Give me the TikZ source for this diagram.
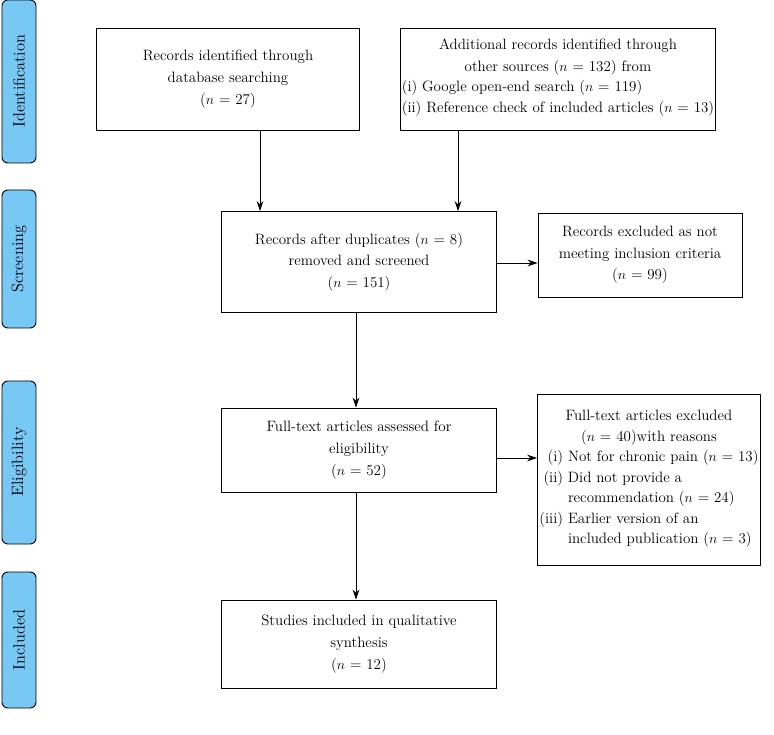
\documentclass[tikz,border=0pt]{standalone}
\usepackage{tikz}
\usetikzlibrary{arrows.meta, positioning}
\definecolor{tabcolor}{RGB}{120,200,245}
\tikzset{
  flowbox/.style={draw, thick, align=center, inner sep=1pt, font=\fontsize{12.8}{18.5}\selectfont},
  stagetab/.style={draw, thick, fill=tabcolor, rounded corners=5pt},
  stagetext/.style={rotate=90, font=\fontsize{14}{17}\selectfont},
  flowarrow/.style={-{Stealth[length=3mm, width=2mm]}, thick}
}
\begin{document}
\begin{tikzpicture}[x=0.03cm, y=-0.03cm]
    \useasboundingbox (0,0) rectangle (774,735);
    % Stage tabs
    \draw[stagetab] (2,0) rectangle (36,163);
    \node[stagetext] (tid) at (19,81) {Identification};
    \draw[stagetab] (2,190) rectangle (36,328);
    \node[stagetext] (tsc) at (19,259) {Screening};
    \draw[stagetab] (2,381) rectangle (36,544);
    \node[stagetext] (tel) at (19,462) {Eligibility};
    \draw[stagetab] (2,572) rectangle (36,708);
    \node[stagetext] (tin) at (19,640) {Included};

    % Boxes
    \node[flowbox, minimum width=7.89cm, minimum height=3.06cm] (db) at (228,79)
        {Records identified through\\database searching\\($n$ = 27)};
    \node[flowbox, minimum width=9.42cm, minimum height=3.06cm] (other) at (558,79)
        {Additional records identified through\\other sources ($n$ = 132) from\\
         \begin{tabular}{@{}l@{}}(i) Google open-end search ($n$ = 119)\\[-1pt](ii) Reference check of included articles ($n$ = 13)\end{tabular}};
    \node[flowbox, minimum width=8.25cm, minimum height=3.03cm] (dup) at (359,262)
        {Records after duplicates ($n$ = 8)\\removed and screened\\($n$ = 151)};
    \node[flowbox, minimum width=6.12cm, minimum height=2.52cm] (excl) at (640,255)
        {Records excluded as not\\meeting inclusion criteria\\($n$ = 99)};
    \node[flowbox, minimum width=8.25cm, minimum height=2.52cm] (full) at (359,450)
        {Full-text articles assessed for\\eligibility\\($n$ = 52)};
    \node[flowbox, minimum width=6.69cm, minimum height=5.13cm] (ftex) at (649,480)
        {Full-text articles excluded\\($n$ = 40)with reasons\\
         \begin{tabular}{@{}r@{ }l@{}}(i) & Not for chronic pain ($n$ = 13)\\[-1pt](ii) & Did not provide a\\[-1pt] & recommendation ($n$ = 24)\\[-1pt](iii) & Earlier version of an\\[-1pt] & included publication ($n$ = 3)\end{tabular}};
    \node[flowbox, minimum width=8.25cm, minimum height=2.64cm] (incl) at (359,644)
        {Studies included in qualitative\\synthesis\\($n$ = 12)};

    % Arrows
    \draw[flowarrow] (db.south -| 260,0) -- (dup.north -| 260,0);
    \draw[flowarrow] (other.south -| 458,0) -- (dup.north -| 458,0);
    \draw[flowarrow] (dup.east |- 0,263) -- (excl.west |- 0,263);
    \draw[flowarrow] (dup.south -| 356,0) -- (full.north -| 356,0);
    \draw[flowarrow] (full.east |- 0,458) -- (ftex.west |- 0,458);
    \draw[flowarrow] (full.south -| 356,0) -- (incl.north -| 356,0);
\end{tikzpicture}
\end{document}
